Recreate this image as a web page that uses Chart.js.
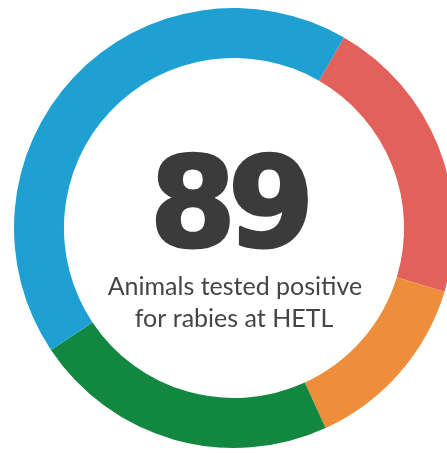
<!DOCTYPE html>
<html>
<head>
<meta charset="utf-8">
<script src="https://cdn.jsdelivr.net/npm/chart.js@4"></script>
<style>
  html, body { margin: 0; padding: 0; background: #fff; overflow: hidden; }
  #wrap { width: 468px; height: 456px; }
</style>
</head>
<body>
<div id="wrap"><canvas id="rabiesChart" width="468" height="456"></canvas></div>
<script>
// segments, clockwise from about 1 o'clock
const labels = ["Red group", "Orange group", "Green group", "Blue group"];
const counts = [19, 12, 20, 38];
const colors = ["#e2615a", "#ee8e3c", "#12873f", "#1fa0d2"];
const total = counts.reduce((a, b) => a + b, 0);
const caption = ["Animals tested positive", "for rabies at HETL"];

// big number + caption in the hole
const centerText = {
  id: "centerText",
  afterDraw(chart) {
    const { ctx, chartArea } = chart;
    const cx = (chartArea.left + chartArea.right) / 2;
    const cy = (chartArea.top + chartArea.bottom) / 2;
    ctx.save();
    ctx.textAlign = "center";
    ctx.textBaseline = "alphabetic";
    ctx.fillStyle = "#3b3b3b";
    ctx.strokeStyle = "#3b3b3b";
    ctx.lineWidth = 3;
    ctx.lineJoin = "round";
    ctx.letterSpacing = "-8px";
    ctx.font = "bold 124px 'DejaVu Sans', sans-serif";
    ctx.fillText(String(total), cx - 6, cy + 18);
    ctx.strokeText(String(total), cx - 6, cy + 18);
    ctx.letterSpacing = "0px";
    ctx.fillStyle = "#454545";
    ctx.font = "400 25px Lato, 'Open Sans', sans-serif";
    ctx.fillText(caption[0], cx + 1, cy + 67);
    ctx.fillText(caption[1], cx, cy + 99);
    ctx.restore();
  },
};

window.addEventListener("DOMContentLoaded", () => {
  const ctx = document.getElementById("rabiesChart").getContext("2d");
  new Chart(ctx, {
    type: "doughnut",
    data: {
      labels: labels,
      datasets: [
        {
          data: counts,
          backgroundColor: colors,
          borderWidth: 0,
          hoverOffset: 0,
        },
      ],
    },
    options: {
      responsive: false,
      animation: false,
      rotation: 30,
      radius: 220,
      cutout: "77.3%",
      layout: { padding: 0 },
      plugins: {
        legend: { display: false },
        tooltip: { enabled: false },
      },
    },
    plugins: [centerText],
  });
});
</script>
</body>
</html>
